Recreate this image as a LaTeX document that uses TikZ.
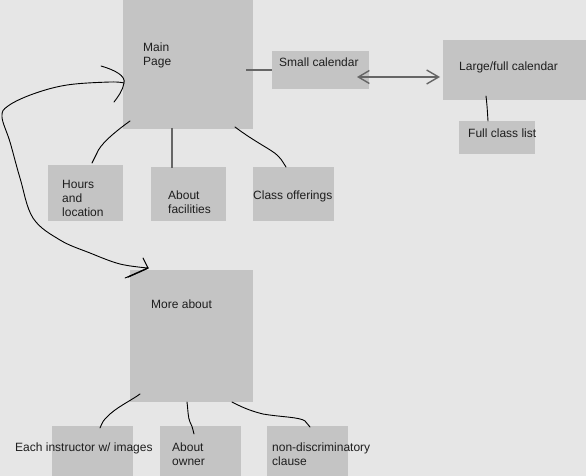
\documentclass[tikz,border=0pt]{standalone}
\usepackage{fontspec}
\setmainfont{Liberation Sans}
\usetikzlibrary{arrows.meta}
\definecolor{bgc}{HTML}{E6E6E6}
\definecolor{boxc}{HTML}{C4C4C4}
\definecolor{linec}{HTML}{666666}
\definecolor{txtc}{HTML}{1E1E1E}
\begin{document}
\begin{tikzpicture}[x=1pt,y=-1pt,
  box/.style={fill=boxc, draw=none, anchor=north west, inner sep=0pt, outer sep=0pt},
  lbl/.style={anchor=base west, inner sep=0pt, text=txtc, font=\fontsize{12}{14}\selectfont},
  gline/.style={draw=linec, line width=1.6pt},
  hand/.style={draw=black, line width=0.9pt, line cap=round, line join=round},
  barb/.style={draw=linec, line width=1.4pt, {Straight Barb[length=11pt,width=13pt]}-{Straight Barb[length=12pt,width=14pt]}}
]
\useasboundingbox (0,0) rectangle (586,476);
\fill[bgc] (0,0) rectangle (586,476);

% boxes
\node[box, minimum width=130pt, minimum height=129pt] (main) at (123,0) {};
\node[box, minimum width=97pt, minimum height=38pt] (small) at (272,51) {};
\node[box, minimum width=143pt, minimum height=60pt] (large) at (443,40) {};
\node[box, minimum width=76pt, minimum height=33pt] (flist) at (459,121) {};
\node[box, minimum width=75pt, minimum height=56pt] (hours) at (48,165) {};
\node[box, minimum width=75pt, minimum height=54pt] (facil) at (151,167) {};
\node[box, minimum width=81pt, minimum height=54pt] (offer) at (253,167) {};
\node[box, minimum width=123pt, minimum height=132pt] (more) at (130,270) {};
\node[box, minimum width=81pt, minimum height=50pt] (instr) at (52,426) {};
\node[box, minimum width=81pt, minimum height=50pt] (owner) at (160,426) {};
\node[box, minimum width=81pt, minimum height=50pt] (nondis) at (267,426) {};

% labels
\node[lbl] (tmain1) at (143,52) {Main};
\node[lbl] (tmain2) at (143,66) {Page};
\node[lbl] (tsmall) at (279,67) {Small calendar};
\node[lbl] (tlarge) at (459,71) {Large/full calendar};
\node[lbl] (tflist) at (468,138) {Full class list};
\node[lbl] (thours1) at (62,188) {Hours};
\node[lbl] (thours2) at (62,202) {and};
\node[lbl] (thours3) at (62,216) {location};
\node[lbl] (tfacil1) at (168,199) {About};
\node[lbl] (tfacil2) at (168,213) {facilities};
\node[lbl] (toffer) at (253,199) {Class offerings};
\node[lbl] (tmore) at (151,308) {More about};
\node[lbl] (tinstr) at (15,451) {Each instructor w/ images};
\node[lbl] (towner1) at (172,451) {About};
\node[lbl] (towner2) at (172,465) {owner};
\node[lbl] (tnon1) at (272,451) {non-discriminatory};
\node[lbl] (tnon2) at (272,465) {clause};

% connector end points
\coordinate (mR) at (246,70);
\coordinate (sL) at (272,70);
\coordinate (sR) at (357,77);
\coordinate (lL) at (440,77);
\coordinate (lB) at (486,96);
\coordinate (fT) at (488,121);
\coordinate (mBL) at (130,121);
\coordinate (hT) at (92,163);
\coordinate (mB) at (172,128);
\coordinate (faT) at (172,168);
\coordinate (mBR) at (235,127);
\coordinate (oT) at (286,167);
\coordinate (mL) at (124,83);
\coordinate (moT) at (148,268);
\coordinate (moBL) at (140,394);
\coordinate (iT) at (100,428);
\coordinate (moB) at (187,402);
\coordinate (owT) at (194,434);
\coordinate (moBR) at (232,402);
\coordinate (nT) at (310,427);

% straight gray connectors
\draw[gline] (mR) -- (sL);
\draw[gline] (mB) -- (faT);
\draw[barb] (sR) -- (lL);

% hand-drawn connectors
\draw[hand] (lB) .. controls (487,105) .. (fT);
\draw[hand] (mBL) .. controls (112,134) and (100,145) .. (97,153) .. controls (95,157) .. (hT);
\draw[hand] (mBR) .. controls (255,142) and (272,150) .. (277,155) .. controls (281,159) .. (oT);
\draw[hand] (moBL) .. controls (132,400) and (115,408) .. (107,417) .. controls (103,421) .. (iT);
\draw[hand] (moB) .. controls (188,410) and (188,418) .. (190,422) .. controls (192,426) .. (owT);
\draw[hand] (moBR) .. controls (245,409) and (255,412) .. (263,414) .. controls (280,417) and (300,417) .. (305,421) .. controls (308,424) .. (nT);

% big curve from main page to more about
\draw[hand] plot[smooth, tension=0.6] coordinates {(mL) (110,82) (67,85) (33,94) (8,106) (2,117) (10,142) (20,178) (33,218) (60,240) (90,253) (120,264) (moT)};
% hand-drawn arrowheads
\draw[hand] (101,66) .. controls (115,70) and (126,76) .. (mL) .. controls (123,90) and (118,97) .. (114,102);
\draw[hand] (143,258) .. controls (145,262) .. (moT) .. controls (140,272) and (130,276) .. (125,278);
\draw[hand, line width=1.4pt] (moT) -- (128,277);
\end{tikzpicture}
\end{document}
